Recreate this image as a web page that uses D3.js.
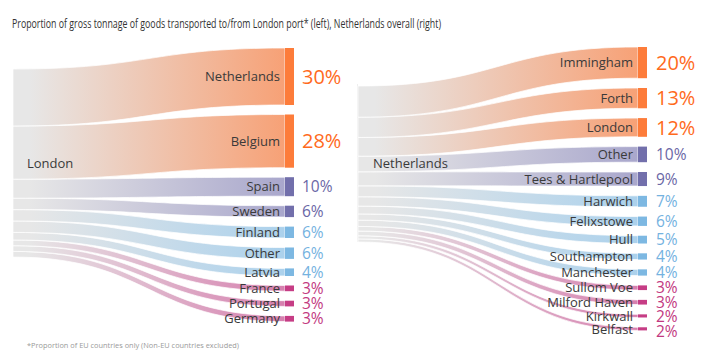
<!DOCTYPE html>
<html>
<head>
<meta charset="utf-8">
<script src="https://cdn.jsdelivr.net/npm/d3@7"></script>
<style>
  html, body { margin: 0; padding: 0; background: #ffffff; }
  svg { display: block; }
  text { font-family: "Open Sans", "Noto Sans", sans-serif; }
</style>
</head>
<body>
<svg id="chart" width="708" height="357"></svg>
<script>
// ---------------- DATA ----------------
const titleText = "Proportion of gross tonnage of goods transported to/from London port* (left), Netherlands overall (right)";
const footnoteText = "*Proportion of EU countries only (Non-EU countries excluded)";

const leftSource = "London";
const leftCategories = ["Netherlands", "Belgium", "Spain", "Sweden", "Finland", "Other", "Latvia", "France", "Portugal", "Germany"];
const leftValues = [30, 28, 10, 6, 6, 6, 4, 3, 3, 3];
const leftGroups = ["orange", "orange", "purple", "purple", "blue", "blue", "blue", "pink", "pink", "pink"];

const rightSource = "Netherlands";
const rightCategories = ["Immingham", "Forth", "London", "Other", "Tees & Hartlepool", "Harwich", "Felixstowe", "Hull", "Southampton", "Manchester", "Sullom Voe", "Milford Haven", "Kirkwall", "Belfast"];
const rightValues = [20, 13, 12, 10, 9, 7, 6, 5, 4, 4, 3, 3, 2, 2];
const rightGroups = ["orange", "orange", "orange", "purple", "purple", "blue", "blue", "blue", "blue", "blue", "pink", "pink", "pink", "pink"];

// ---------------- STYLE ----------------
const groupNames = ["orange", "purple", "blue", "pink"];
const nodeColor = d3.scaleOrdinal().domain(groupNames).range(["#fd7c3a", "#726fab", "#7db8e2", "#c63d85"]);
const linkEndColor = d3.scaleOrdinal().domain(groupNames).range(["#f7a176", "#a9a7cc", "#abd1ec", "#d67fae"]);
const valueColor = d3.scaleOrdinal().domain(groupNames).range(["#ff6a1c", "#6a67a6", "#74b2df", "#c2387f"]);
const sourceGray = "#e7e7e7";

const svg = d3.select("#chart");
const defs = svg.append("defs");

// Title
svg.append("text")
  .attr("x", 12).attr("y", 28)
  .attr("font-size", 13)
  .attr("fill", "#333")
  .attr("textLength", 429)
  .attr("lengthAdjust", "spacingAndGlyphs")
  .text(titleText);

// Footnote
svg.append("text")
  .attr("x", 27).attr("y", 348)
  .attr("font-size", 8)
  .attr("fill", "#9a9a9a")
  .attr("textLength", 212)
  .attr("lengthAdjust", "spacingAndGlyphs")
  .text(footnoteText);

// separator line between panels
svg.append("line")
  .attr("x1", 357.5).attr("x2", 357.5)
  .attr("y1", 84).attr("y2", 242)
  .attr("stroke", "#efefef").attr("stroke-width", 1);

function drawSankey(cfg) {
  const g = svg.append("g");
  const total = d3.sum(cfg.values);
  const h = d3.scaleLinear().domain([0, 100]).range([0, cfg.pxPer100]);

  // layout nodes
  let ty = cfg.targetTop;
  let sy = cfg.sourceTop;
  const nodes = cfg.categories.map((name, i) => {
    const height = h(cfg.values[i]);
    const n = { name, value: cfg.values[i], group: cfg.groups[i],
      t0: ty, t1: ty + height, s0: sy, s1: sy + height };
    ty += height + cfg.padding;
    sy += height;
    return n;
  });

  // gradients
  groupNames.forEach(gn => {
    const grad = defs.append("linearGradient")
      .attr("id", cfg.id + "-" + gn)
      .attr("gradientUnits", "userSpaceOnUse")
      .attr("x1", cfg.x0).attr("x2", cfg.x1)
      .attr("y1", 0).attr("y2", 0);
    grad.append("stop").attr("offset", "0%").attr("stop-color", sourceGray);
    grad.append("stop").attr("offset", "6%").attr("stop-color", sourceGray);
    grad.append("stop").attr("offset", "100%").attr("stop-color", linkEndColor(gn));
  });

  const xm0 = cfg.x0 + (cfg.x1 - cfg.x0) * 0.5;
  function bandPath(n) {
    const p = d3.path();
    p.moveTo(cfg.x0, n.s0);
    p.bezierCurveTo(xm0, n.s0, xm0, n.t0, cfg.x1, n.t0);
    p.lineTo(cfg.x1, n.t1);
    p.bezierCurveTo(xm0, n.t1, xm0, n.s1, cfg.x0, n.s1);
    p.closePath();
    return p.toString();
  }

  // links (drawn bottom first so upper ones overlay)
  g.append("g").selectAll("path")
    .data(nodes.slice().reverse())
    .join("path")
    .attr("d", bandPath)
    .attr("fill", d => `url(#${cfg.id}-${d.group})`)
    .attr("stroke", "#ffffff")
    .attr("stroke-width", 0.8)
    .attr("stroke-opacity", 0.9);

  // target node strips
  g.append("g").selectAll("rect")
    .data(nodes)
    .join("rect")
    .attr("x", cfg.x1)
    .attr("y", d => d.t0)
    .attr("width", cfg.nodeWidth)
    .attr("height", d => d.t1 - d.t0)
    .attr("fill", d => nodeColor(d.group));

  // node name labels
  g.append("g").selectAll("text")
    .data(nodes)
    .join("text")
    .attr("x", cfg.x1 - 5)
    .attr("y", d => (d.t0 + d.t1) / 2)
    .attr("dy", "0.36em")
    .attr("text-anchor", "end")
    .attr("font-size", 13)
    .attr("fill", "#3a3a3a")
    .text(d => d.name);

  // value labels with simple collision avoidance
  let prev = -Infinity;
  nodes.forEach(n => {
    let y = (n.t0 + n.t1) / 2;
    const size = n.group === "orange" ? 20 : 15.5;
    const minGap = 14.5;
    if (y < prev + minGap) y = prev + minGap;
    n.labelY = y; n.labelSize = size;
    prev = y;
  });
  g.append("g").selectAll("text")
    .data(nodes)
    .join("text")
    .attr("x", cfg.valueX)
    .attr("y", d => d.labelY)
    .attr("dy", "0.36em")
    .attr("font-size", d => d.labelSize)
    .attr("fill", d => valueColor(d.group))
    .text(d => d.value + "%");

  // source label
  g.append("text")
    .attr("x", cfg.sourceLabelX)
    .attr("y", cfg.sourceLabelY)
    .attr("font-size", 13)
    .attr("fill", "#3a3a3a")
    .text(cfg.source);
}

drawSankey({
  id: "L", source: leftSource,
  categories: leftCategories, values: leftValues, groups: leftGroups,
  x0: 13, x1: 285, nodeWidth: 9, pxPer100: 190, padding: 9.5,
  targetTop: 48, sourceTop: 69, valueX: 302,
  sourceLabelX: 27, sourceLabelY: 168
});

drawSankey({
  id: "R", source: rightSource,
  categories: rightCategories, values: rightValues, groups: rightGroups,
  x0: 358, x1: 638, nodeWidth: 9, pxPer100: 156, padding: 9.8,
  targetTop: 47, sourceTop: 86, valueX: 656,
  sourceLabelX: 373, sourceLabelY: 168
});
</script>
</body>
</html>
